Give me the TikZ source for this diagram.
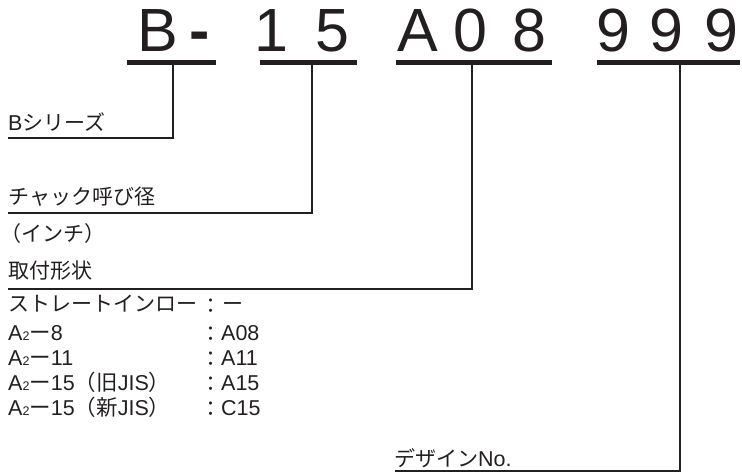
\documentclass[tikz,border=0pt]{standalone}
\usepackage{fontspec}
\setmainfont{Liberation Sans}
\newfontfamily\jp{Noto Sans CJK JP}
\definecolor{ink}{HTML}{231F20}
\newcommand{\sub}{{\fontsize{12.5}{12.5}\selectfont 2}}
\newcommand{\lat}{\fontsize{21.5}{21.5}\selectfont\rmfamily}
\begin{document}
\begin{tikzpicture}[x=1pt,y=-1pt,
  big/.style={font=\fontsize{61}{61}\selectfont, text=ink, inner sep=0pt, anchor=base},
  ulbar/.style={fill=ink, inner sep=0pt, minimum height=5pt},
  conn/.style={line width=1.4pt, draw=ink},
  lbl/.style={font=\lat, text=ink, inner sep=0pt, anchor=base west},
  jpl/.style={lbl, font=\fontsize{21}{21}\selectfont\jp},
]
\useasboundingbox (0,0) rectangle (742,473);
% code characters
\node[big] (cB) at (158,52) {B};
\node[big, font=\fontsize{61}{61}\selectfont\bfseries] (cH) at (200,52) {-};
\node[big] (c1) at (271,52) {1};
\node[big] (c5) at (332,52) {5};
\node[big] (cA) at (418,52) {A};
\node[big] (c0) at (470,52) {0};
\node[big] (c8) at (529,52) {8};
\node[big] (c9a) at (613,52) {9};
\node[big] (c9b) at (666,52) {9};
\node[big] (c9c) at (721,52) {9};
% underlines
\node[ulbar, minimum width=89pt] (u1) at (171.5,62.5) {};
\node[ulbar, minimum width=97pt] (u2) at (308.5,62.5) {};
\node[ulbar, minimum width=156pt] (u3) at (474,62.5) {};
\node[ulbar, minimum width=143pt] (u4) at (668.5,62.5) {};
% labels
\node[jpl] (l1) at (8,131) {{\lat B}シリーズ};
\node[jpl] (l2) at (8,205) {チャック呼び径};
\node[jpl] (l2b) at (0,242) {（インチ）};
\node[jpl] (l3) at (8,279) {取付形状};
\node[jpl] (l4) at (394,466) {デザイン{\lat No.}};
% connector end points
\coordinate (t1) at (173,65);   \coordinate (e1) at (8,138);
\coordinate (t2) at (312,65);   \coordinate (e2) at (8,213);
\coordinate (t3) at (472,65);   \coordinate (e3) at (8,289);
\coordinate (t4) at (680,65);   \coordinate (e4) at (395,471);
\draw[conn] (t1) |- (e1);
\draw[conn] (t2) |- (e2);
\draw[conn] (t3) |- (e3);
\draw[conn] (t4) |- (e4);
% list
\node[jpl] (r1) at (8,312) {ストレートインロー};
\node[lbl] (r2) at (8,340) {A\sub{\jp ー}8};
\node[lbl] (r3) at (8,365) {A\sub{\jp ー}11};
\node[lbl] (r4) at (8,390) {A\sub{\jp ー}15{\jp （旧}JIS{\jp ）}};
\node[lbl] (r5) at (8,415) {A\sub{\jp ー}15{\jp （新}JIS{\jp ）}};
\foreach \y/\n in {312/k1,340/k2,365/k3,390/k4,415/k5}
  \node[jpl, anchor=base] (\n) at (211,\y+1) {：};
\node[jpl] (v1) at (222,312) {ー};
\node[lbl] (v2) at (221,340) {A08};
\node[lbl] (v3) at (221,365) {A11};
\node[lbl] (v4) at (221,390) {A15};
\node[lbl] (v5) at (221,415) {C15};
\end{tikzpicture}
\end{document}
